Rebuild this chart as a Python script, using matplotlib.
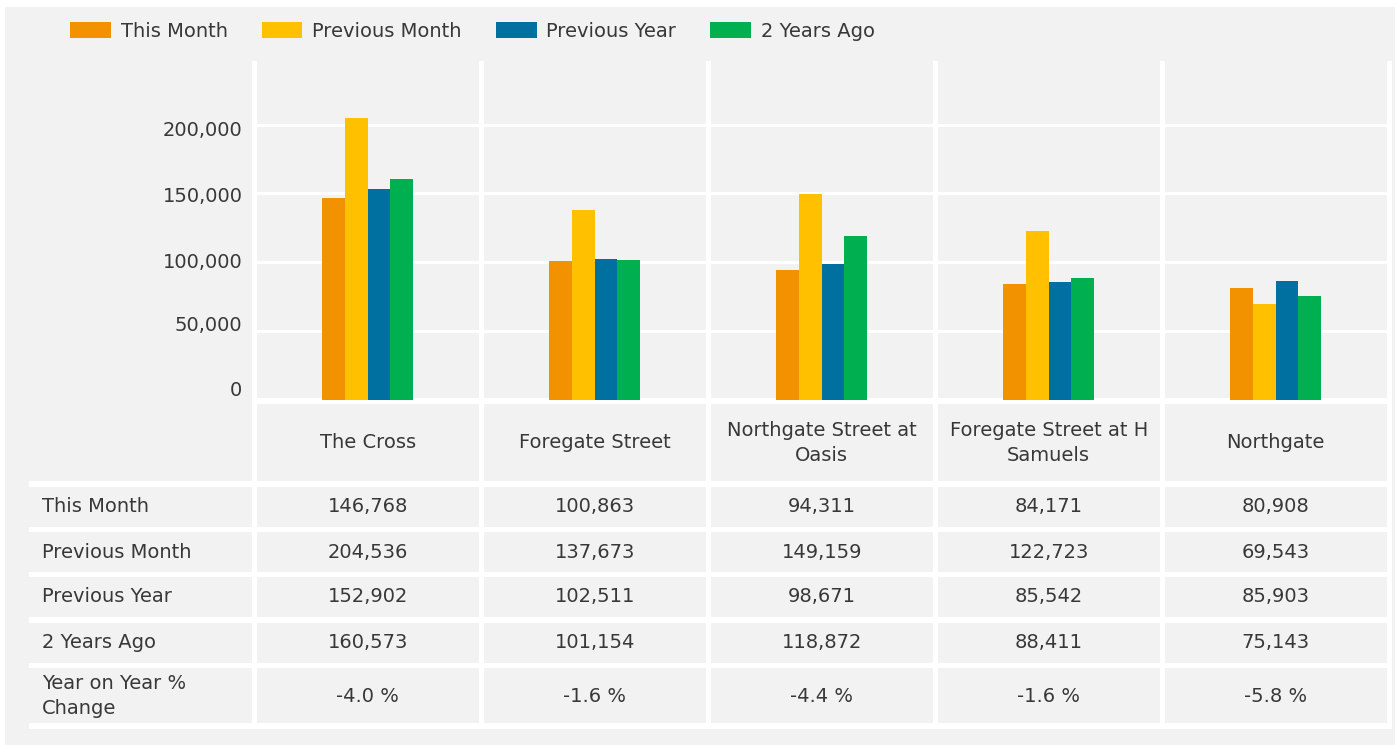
import matplotlib
matplotlib.use("Agg")
import matplotlib.pyplot as plt
from matplotlib.patches import Rectangle
from matplotlib.transforms import ScaledTranslation

# Footfall per location
locations = ["The Cross", "Foregate Street", "Northgate Street at\nOasis",
             "Foregate Street at H\nSamuels", "Northgate"]
this_month = [146768, 100863, 94311, 84171, 80908]
previous_month = [204536, 137673, 149159, 122723, 69543]
previous_year = [152902, 102511, 98671, 85542, 85903]
two_years_ago = [160573, 101154, 118872, 88411, 75143]
yoy_change = [-4.0, -1.6, -4.4, -1.6, -5.8]

series_names = ["This Month", "Previous Month", "Previous Year", "2 Years Ago"]
series_values = [this_month, previous_month, previous_year, two_years_ago]
series_colors = ["#F39200", "#FFC000", "#0070A0", "#00B050"]
y_ticks = [0, 50000, 100000, 150000, 200000]

TEXT = "#383838"
GREY = "#f2f2f2"
plt.rcParams["font.family"] = ["DejaVu Sans"]
FS = 14

W, H = 1397, 745
fig = plt.figure(figsize=(W / 100, H / 100), dpi=100)
fig.patch.set_facecolor("white")

# background layer in pixel coordinates: panel and table separators
bg = fig.add_axes([0, 0, 1, 1])
bg.set_xlim(0, W)
bg.set_ylim(H, 0)
bg.axis("off")
bg.add_patch(Rectangle((5, 7), 1390, 738, color=GREY, lw=0))

col_left, col_step, gap = 251.5, 227.0, 5.5
n_cols = len(locations)
for k in range(n_cols + 1):
    x0 = col_left + col_step * k
    bg.add_patch(Rectangle((x0, 61), gap, 729 - 61, color="white", lw=0))

# white strip between plot and header row (chart columns only)
bg.add_patch(Rectangle((col_left, 398), col_step * n_cols + gap, 6, color="white", lw=0))
row_gaps = [(481, 487), (527, 532), (572, 577), (617, 623), (663, 668), (723, 729)]
for y0, y1 in row_gaps:
    bg.add_patch(Rectangle((29, y0), col_left + col_step * n_cols + gap - 29, y1 - y0,
                           color="white", lw=0))

# bar chart
plot_left, plot_right = col_left + gap / 2, col_left + col_step * n_cols + gap / 2
y_zero, y_top = 399.5, 61
px_per_50k = 68.75
ax = fig.add_axes([plot_left / W, (H - y_zero) / H, (plot_right - plot_left) / W,
                   (y_zero - y_top) / H])
ax.set_facecolor("none")
ax.set_xlim(-0.5, n_cols - 0.5)
ax.set_ylim(0, (y_zero - y_top) / px_per_50k * 50000)

bar_w = 0.1
x = list(range(n_cols))
handles = []
for i, (name, vals, c) in enumerate(zip(series_names, series_values, series_colors)):
    offs = (i - 1.5) * bar_w
    h = ax.bar([xi + offs for xi in x], vals, width=bar_w, color=c, label=name,
               lw=0, zorder=3)
    handles.append(h)

ax.set_axisbelow(True)
ax.yaxis.grid(True, color="white", lw=2.2)
ax.set_yticks(y_ticks)
ax.set_yticklabels([f"{v:,}" for v in y_ticks])
ax.set_xticks([])
ax.tick_params(axis="y", length=0, pad=8.5, labelsize=FS, labelcolor=TEXT)
for s in ax.spines.values():
    s.set_visible(False)

# the reference labels sit slightly off their gridlines
label_shift = [10.5, 7, 2, -1, -3.5]
for lab, dy in zip(ax.get_yticklabels(), label_shift):
    lab.set_transform(lab.get_transform() + ScaledTranslation(0, dy / 100, fig.dpi_scale_trans))

# header row and table
col_centers = [plot_left + (plot_right - plot_left) / n_cols * (j + 0.5) for j in range(n_cols)]
for cx, loc in zip(col_centers, locations):
    bg.text(cx, 443, loc, ha="center", va="center", fontsize=FS, color=TEXT,
            linespacing=1.36)

row_labels = series_names + ["Year on Year %\nChange"]
row_centers = [507, 552, 597, 643, 696]
row_texts = [[f"{v:,}" for v in vals] for vals in series_values]
row_texts.append([f"{v:.1f} %" for v in yoy_change])
for yc, lab, texts in zip(row_centers, row_labels, row_texts):
    bg.text(42, yc, lab, ha="left", va="center", fontsize=FS, color=TEXT, linespacing=1.36)
    for cx, t in zip(col_centers, texts):
        bg.text(cx, yc, t, ha="center", va="center", fontsize=FS, color=TEXT)

fig.legend(handles=handles, loc="upper left", bbox_to_anchor=(70 / W, 1 - 22 / H),
           ncol=4, frameon=False, fontsize=FS, handlelength=2.1, handleheight=0.88,
           handletextpad=0.5, columnspacing=1.75, borderpad=0, borderaxespad=0,
           labelcolor=TEXT)

fig.savefig("out.png", dpi=100, facecolor="white")
